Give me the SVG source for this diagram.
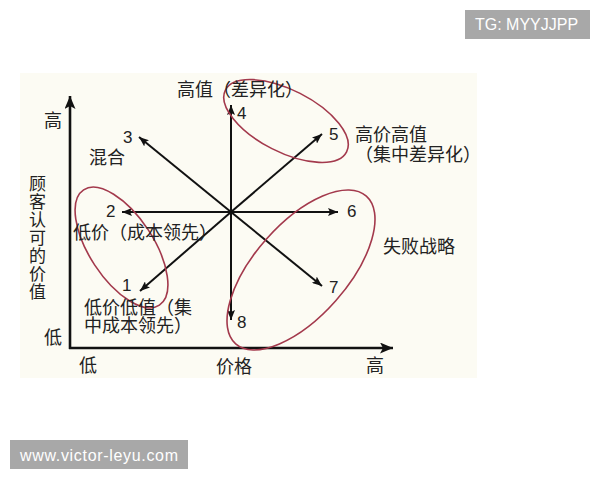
<svg xmlns="http://www.w3.org/2000/svg" width="600" height="480" viewBox="0 0 600 480">
<style>
.cn{font-family:"Noto Sans CJK SC","Noto Sans",sans-serif;font-size:18px;fill:#222}
.vt{font-family:"Noto Sans CJK SC","Noto Sans",sans-serif;font-size:17px;fill:#222}
.num{font-family:"Liberation Sans",Arial,sans-serif;font-size:17px;fill:#222}
.wm{font-family:"Liberation Sans",Arial,sans-serif;font-size:16px;fill:#fff}
.ray{stroke:#111;stroke-width:2;fill:none;marker-end:url(#ah)}
.axis{stroke:#111;stroke-width:2.6;fill:none;marker-end:url(#axh)}
.ring{fill:none;stroke:#a3394c;stroke-width:1.6}
</style>
<defs>
<marker id="ah" markerUnits="userSpaceOnUse" viewBox="0 0 10 8" refX="10" refY="4" markerWidth="10" markerHeight="8" orient="auto">
<path d="M0,0 L10,4 L0,8 L2,4 z" fill="#111"/>
</marker>
<marker id="axh" markerUnits="userSpaceOnUse" viewBox="0 0 13 11" refX="13" refY="5.5" markerWidth="13" markerHeight="11" orient="auto">
<path d="M0,0 L13,5.5 L0,11 L3,5.5 z" fill="#111"/>
</marker>
</defs>
<rect width="600" height="480" fill="#fff"/>
<rect x="20" y="73" width="457" height="305" fill="#fcfbf3"/>

<g id="axes">
<line class="axis" x1="70" y1="349" x2="70" y2="96"/>
<line class="axis" x1="69" y1="348" x2="393" y2="348"/>
</g>

<g id="connectors">
<line class="ray" x1="231" y1="212" x2="231" y2="105"/>
<line class="ray" x1="231" y1="212" x2="322" y2="134"/>
<line class="ray" x1="231" y1="212" x2="338" y2="212"/>
<line class="ray" x1="231" y1="212" x2="322" y2="286"/>
<line class="ray" x1="231" y1="212" x2="231" y2="320"/>
<line class="ray" x1="231" y1="212" x2="140" y2="291"/>
<line class="ray" x1="231" y1="212" x2="122" y2="212"/>
<line class="ray" x1="231" y1="212" x2="139" y2="137"/>
</g>

<g id="rings">
<ellipse class="ring" cx="286" cy="121" rx="68" ry="31" transform="rotate(27 286 121)"/>
<ellipse class="ring" cx="121.5" cy="247.5" rx="69" ry="32" transform="rotate(56.7 121.5 247.5)"/>
<ellipse class="ring" cx="301" cy="270" rx="98.6" ry="46.4" transform="rotate(-48.5 301 270)"/>
</g>

<g id="axis-labels">
<text class="cn" x="44" y="127">高</text>
<text class="cn" x="44" y="344">低</text>
<text class="cn" x="79" y="372">低</text>
<text class="cn" x="216" y="373">价格</text>
<text class="cn" x="366" y="372">高</text>
<text class="vt" text-anchor="middle"><tspan x="37.5" y="190">顾</tspan><tspan x="37.5" dy="18">客</tspan><tspan x="37.5" dy="18">认</tspan><tspan x="37.5" dy="18">可</tspan><tspan x="37.5" dy="18">的</tspan><tspan x="37.5" dy="18">价</tspan><tspan x="37.5" dy="18">值</tspan></text>
</g>

<g id="node-1"><text class="num" x="122" y="291">1</text><text class="cn" x="84" y="314">低价低值（集</text><text class="cn" x="84" y="332">中成本领先）</text></g>
<g id="node-2"><text class="num" x="106" y="217">2</text><text class="cn" x="73" y="239">低价（成本领先）</text></g>
<g id="node-3"><text class="num" x="123" y="143">3</text><text class="cn" x="89" y="164">混合</text></g>
<g id="node-4"><text class="num" x="237" y="119">4</text><text class="cn" x="177" y="96">高值（差异化）</text></g>
<g id="node-5"><text class="num" x="329" y="140">5</text><text class="cn" x="355" y="141">高价高值</text><text class="cn" x="355" y="161">（集中差异化）</text></g>
<g id="node-6"><text class="num" x="347" y="217">6</text></g>
<g id="node-7"><text class="num" x="329" y="293">7</text><text class="cn" x="383" y="253">失败战略</text></g>
<g id="node-8"><text class="num" x="237" y="328">8</text></g>

<g id="watermarks">
<rect x="465" y="10" width="125" height="29" fill="#a8a8a8"/>
<text class="wm" x="475" y="30">TG: MYYJJPP</text>
<rect x="10" y="440" width="178" height="29" fill="#a8a8a8"/>
<text class="wm" x="20" y="461" font-size="17" textLength="158">www.victor-leyu.com</text>
</g>
</svg>
